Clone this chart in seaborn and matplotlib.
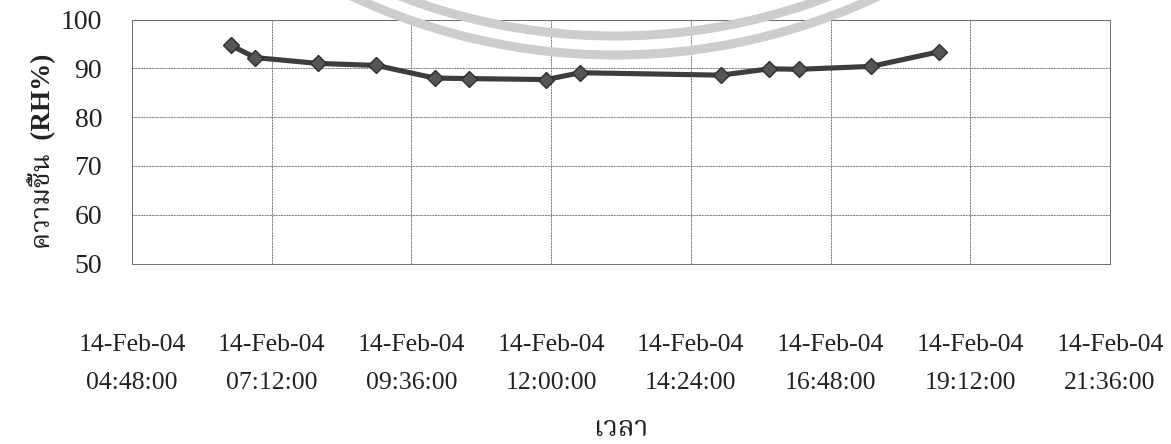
import matplotlib
matplotlib.use("Agg")
import matplotlib.pyplot as plt
from matplotlib import font_manager, ft2font
from matplotlib.patches import Arc
import pandas as pd
import seaborn as sns

# Relative humidity readings on 14 Feb 2004 (time of day, %RH)
times = ["06:30", "06:55", "08:00", "09:00", "10:00", "10:35", "11:55",
         "12:30", "14:55", "15:45", "16:15", "17:30", "18:40"]
rh = [94.7, 92.2, 91.0, 90.6, 88.0, 87.9, 87.7, 89.1, 88.6, 89.9, 89.8, 90.4, 93.4]

tick_dates = ["14-Feb-04"] * 8
tick_times = ["04:48:00", "07:12:00", "09:36:00", "12:00:00",
              "14:24:00", "16:48:00", "19:12:00", "21:36:00"]
y_ticks = [50, 60, 70, 80, 90, 100]

y_label_th = "ความชื้น"
y_label_en = "(RH%)"
x_label = "เวลา"


def to_hours(s):
    parts = [int(p) for p in s.split(":")]
    while len(parts) < 3:
        parts.append(0)
    return parts[0] + parts[1] / 60 + parts[2] / 3600


def thai_font():
    """Return the name of an installed font that covers the Thai block."""
    preferred = ["Noto Serif Thai", "Noto Sans Thai", "Noto Sans Thai UI",
                 "Norasi", "Garuda", "Loma", "Kinnari", "Sarabun", "Waree"]
    found = []
    for fe in font_manager.fontManager.ttflist:
        try:
            cmap = ft2font.FT2Font(fe.fname).get_charmap()
        except Exception:
            continue
        if 0x0E04 in cmap and 0x0E27 in cmap and 0x0E25 in cmap:
            found.append(fe.name)
    for name in preferred:
        if name in found:
            return name
    return found[0] if found else "DejaVu Sans"


df = pd.DataFrame({"hour": [to_hours(t) for t in times], "rh": rh})
tick_pos = [to_hours(t) for t in tick_times]

sns.set_theme(style="white")
serif = "Liberation Serif"
thai = thai_font()
plt.rcParams["font.family"] = [serif, thai, "DejaVu Sans"]

fig = plt.figure(figsize=(11.71, 4.44), dpi=100)
fig.patch.set_facecolor("white")
ax = fig.add_axes([0.1127, 0.4065, 0.8352, 0.5495])

sns.lineplot(data=df, x="hour", y="rh", ax=ax, color="#3d3d3d",
             linewidth=3.7, marker="D", markersize=8,
             markerfacecolor="#555555", markeredgecolor="#2e2e2e",
             markeredgewidth=1.0, zorder=3)

ax.set_xlim(tick_pos[0], tick_pos[-1])
ax.set_ylim(y_ticks[0], y_ticks[-1])
ax.set_yticks(y_ticks)
ax.set_yticklabels([str(v) for v in y_ticks], fontsize=20,
                   family=serif, color="#222222")
ax.set_xticks(tick_pos)
ax.set_xticklabels([f"{d}\n{t}" for d, t in zip(tick_dates, tick_times)],
                   fontsize=18.5, family=serif, color="#222222",
                   linespacing=1.95)

grid_color = "#6e6e6e"
ax.grid(True, color=grid_color, linewidth=0.6, linestyle=(0, (2.5, 0.8)))
for side in ["left", "right", "top", "bottom"]:
    ax.spines[side].set_visible(True)
    ax.spines[side].set_color(grid_color)
    ax.spines[side].set_linewidth(0.7)

ax.tick_params(axis="x", direction="out", length=7, width=0.6,
               color=grid_color, pad=44)
ax.tick_params(axis="y", length=0, pad=21.5)

ax.set_xlabel(x_label, fontsize=20, family=[thai, serif], color="#222222")
ax.xaxis.set_label_coords(0.5, -0.68)
ax.xaxis.label.set_verticalalignment("center")

ax.set_ylabel(f"{y_label_th}  {y_label_en}", fontsize=19.5,
              family=[serif, thai], fontweight="bold", color="#222222")
ax.yaxis.set_label_coords(-0.093, 0.46)
ax.yaxis.label.set_verticalalignment("center")

# faint circular seal printed across the top of the page
for radius in (6.19, 6.00):
    ring = Arc((6.15, 10.08), 2 * radius, 2 * radius, theta1=240, theta2=300,
               transform=fig.dpi_scale_trans, color="#cdcdcd",
               linewidth=6.5, zorder=5)
    fig.add_artist(ring)

fig.savefig("out.png", dpi=100, facecolor="white")
